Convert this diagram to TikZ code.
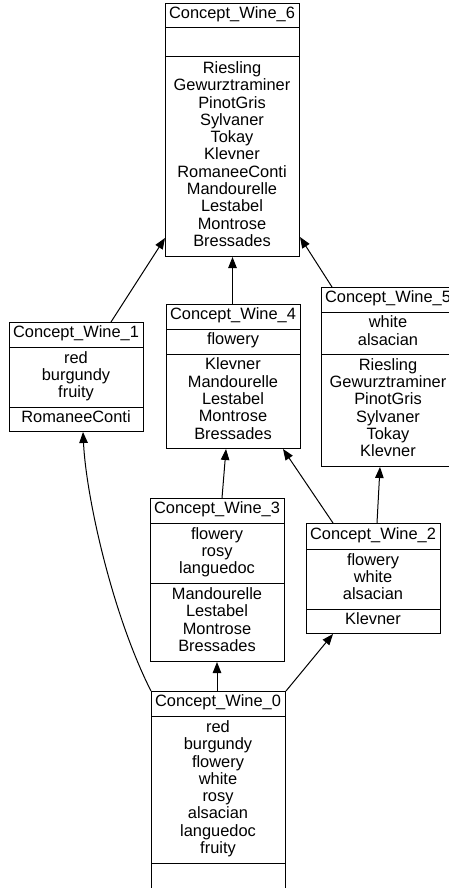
\documentclass[tikz,border=0pt]{standalone}
\usepackage{fontspec}
\setmainfont{Liberation Sans}
\usetikzlibrary{arrows.meta,calc}
\tikzset{
  wframe/.style={draw, line width=1pt, inner sep=0pt, minimum width=134pt, anchor=north west},
  divider/.style={line width=1pt},
  celltext/.style={font=\fontsize{16.4}{17.3}\selectfont, align=center, inner sep=0pt},
  arr/.style={line width=1pt, -{Triangle[length=11pt,width=8.5pt]}}
}
\newcommand\winebox[9]{%
  \node[wframe, minimum height={#6-#3}] (#1) at (#2,#3) {};
  \draw[divider] (#2,#4) -- ++(134,0);
  \draw[divider] (#2,#5) -- ++(134,0);
  \node[celltext] (#1t) at ({#2+67},{(#3+#4)/2}) {#7};
  \node[celltext] (#1a) at ({#2+67},{(#4+#5)/2}) {#8};
  \node[celltext] (#1o) at ({#2+67},{(#5+#6)/2}) {#9};
}
\begin{document}
\begin{tikzpicture}[x=1pt,y=-1pt]
\useasboundingbox (0,0) rectangle (449,888);
\clip (0,0) rectangle (449,888);
\winebox{c6}{165}{3}{28}{57}{256}{\strut Concept\_Wine\_6}{}%
  {\strut Riesling\\\strut Gewurztraminer\\\strut PinotGris\\\strut Sylvaner\\\strut Tokay\\\strut Klevner\\\strut RomaneeConti\\\strut Mandourelle\\\strut Lestabel\\\strut Montrose\\\strut Bressades}
\winebox{c1}{9}{322}{347}{407}{431}{\strut Concept\_Wine\_1}%
  {\strut red\\\strut burgundy\\\strut fruity}{\strut RomaneeConti}
\winebox{c4}{166}{304}{329}{354}{448}{\strut Concept\_Wine\_4}%
  {\strut flowery}{\strut Klevner\\\strut Mandourelle\\\strut Lestabel\\\strut Montrose\\\strut Bressades}
\winebox{c5}{321}{287}{312}{354}{466}{\strut Concept\_Wine\_5}%
  {\strut white\\\strut alsacian}{\strut Riesling\\\strut Gewurztraminer\\\strut PinotGris\\\strut Sylvaner\\\strut Tokay\\\strut Klevner}
\winebox{c3}{150}{498}{523}{583}{661}{\strut Concept\_Wine\_3}%
  {\strut flowery\\\strut rosy\\\strut languedoc}{\strut Mandourelle\\\strut Lestabel\\\strut Montrose\\\strut Bressades}
\winebox{c2}{306}{523}{549}{609}{633}{\strut Concept\_Wine\_2}%
  {\strut flowery\\\strut white\\\strut alsacian}{\strut Klevner}
\winebox{c0}{151}{691}{716}{863}{892}{\strut Concept\_Wine\_0}%
  {\strut red\\\strut burgundy\\\strut flowery\\\strut white\\\strut rosy\\\strut alsacian\\\strut languedoc\\\strut fruity}{}
% connectors
\draw[arr] ($(c1.north west)+(102,0)$) -- ($(c6.south west)+(0,-19)$);
\draw[arr] (c4.north -| c6.south) -- (c6.south);
\draw[arr] ($(c5.north west)+(11,0)$) -- ($(c6.south east)+(0,-20)$);
\draw[arr] ($(c3.north west)+(72,0)$) -- ($(c4.south west)+(60,0)$);
\draw[arr] ($(c2.north west)+(27,0)$) -- ($(c4.south west)+(117,0)$);
\draw[arr] ($(c2.north west)+(71,0)$) -- ($(c5.south west)+(59,0)$);
\draw[arr] (c0.north west) .. controls ($(c0.north west)+(-39,-77)$) and ($(c1.south west)+(77,64)$) .. ($(c1.south west)+(74,0)$);
\draw[arr] ($(c0.north west)+(66,0)$) -- ($(c3.south west)+(67,0)$);
\draw[arr] (c0.north east) -- ($(c2.south west)+(27,0)$);
\end{tikzpicture}
\end{document}
